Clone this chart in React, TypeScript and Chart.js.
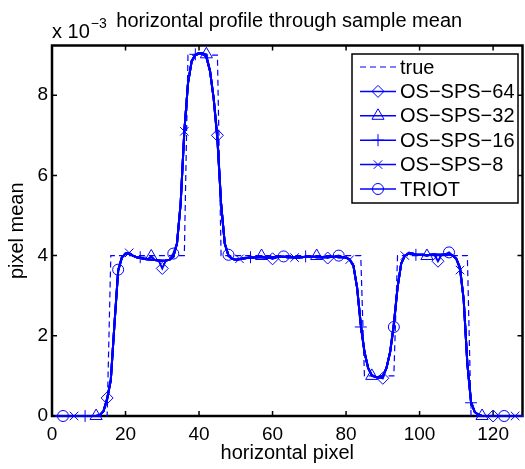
import React, { useEffect, useRef } from 'react';
import { Chart, registerables } from 'chart.js';
import { drawPoint } from 'chart.js/helpers';

Chart.register(...registerables);

const FONT = '"Liberation Sans", Arial, Helvetica, sans-serif';
const BLUE = '#0000ff';

// pixel positions 1..128
const pixelCount = 128;

// true profile (units of 1e-3)
const trueProfile = [
  0, 0, 0, 0, 0, 0, 0, 0, 0, 0,
  0, 0, 0, 0, 0, 4, 4, 4, 4, 4,
  4, 4, 4, 4, 4, 4, 4, 4, 4, 4,
  4, 4, 4, 4, 4, 4, 9, 9, 9, 9,
  9, 9, 9, 9, 9, 4, 4, 4, 4, 4,
  4, 4, 4, 4, 4, 4, 4, 4, 4, 4,
  4, 4, 4, 4, 4, 4, 4, 4, 4, 4,
  4, 4, 4, 4, 4, 4, 4, 4, 4, 4,
  4, 4, 4, 4, 1, 1, 1, 1, 1, 1,
  1, 1, 1, 4, 4, 4, 4, 4, 4, 4,
  4, 4, 4, 4, 4, 4, 4, 4, 4, 4,
  4, 4, 4, 0, 0, 0, 0, 0, 0, 0,
  0, 0, 0, 0, 0, 0, 0, 0,
];

// common reconstructed profile (units of 1e-3)
const reconBase = [
  0, 0, 0, 0, 0, 0, 0, 0, 0, 0,
  0, 0, 0.02, 0.12, 0.42, 0.9, 2.3, 3.62, 3.95, 4.05,
  4.05, 4.0, 3.96, 3.94, 3.92, 3.91, 3.9, 3.89, 3.88, 3.87,
  3.88, 3.9, 3.97, 4.3, 5.3, 7.1, 8.3, 8.85, 9.0, 9.05,
  9.04, 8.95, 8.6, 7.9, 6.9, 5.3, 4.3, 4.0, 3.92, 3.9,
  3.91, 3.93, 3.94, 3.95, 3.95, 3.96, 3.96, 3.95, 3.95, 3.96,
  3.96, 3.97, 3.97, 3.96, 3.96, 3.95, 3.95, 3.96, 3.97, 3.97,
  3.97, 3.96, 3.96, 3.96, 3.97, 3.97, 3.97, 3.96, 3.96, 3.95,
  3.9, 3.75, 3.2, 2.3, 1.6, 1.2, 1.02, 0.97, 0.96, 1.0,
  1.2, 1.6, 2.3, 3.2, 3.8, 4.0, 4.05, 4.05, 4.03, 4.02,
  4.02, 4.01, 4.02, 4.03, 4.02, 4.02, 4.03, 4.03, 4.0, 3.92,
  3.7, 2.9, 1.3, 0.35, 0.1, 0.03, 0, 0, 0, 0,
  0, 0, 0, 0, 0, 0, 0, 0,
];

// per-series values at marker pixels
const sps64Idx = [15, 30, 45, 60, 75, 90, 105, 120];
const sps64Val = [0.45, 3.68, 7.0, 3.92, 3.94, 0.94, 3.86, 0];
const sps32Idx = [12, 27, 42, 57, 72, 87, 102, 117];
const sps32Val = [0, 3.98, 9.02, 3.99, 3.99, 1.0, 3.99, 0];
const sps16Idx = [9, 24, 39, 54, 69, 84, 99, 114];
const sps16Val = [0, 3.96, 9.02, 3.96, 3.98, 2.22, 4.02, 0.33];
const sps8Idx = [6, 21, 36, 51, 66, 81, 96, 111, 126];
const sps8Val = [0, 4.07, 7.1, 3.92, 3.95, 3.9, 4.0, 3.64, 0];
const triotIdx = [3, 18, 33, 48, 63, 78, 93, 108, 123];
const triotVal = [0, 3.65, 4.05, 4.02, 3.98, 4.0, 2.22, 4.08, 0];

const seriesNames = ['true', 'OS\u2212SPS\u221264', 'OS\u2212SPS\u221232', 'OS\u2212SPS\u221216', 'OS\u2212SPS\u22128', 'TRIOT'];
const xTickStep = 20;
const yTickStep = 2;

const pixels = Array.from({ length: pixelCount }, (_, i) => i + 1);

function buildSeries(idx: number[], val: number[]) {
  return pixels.map((p, i) => {
    const k = idx.indexOf(p);
    return { x: p, y: k >= 0 ? val[k] : reconBase[i] };
  });
}

const markerDefs = [
  { style: 'rectRot', r: 6 },
  { style: 'triangle', r: 7 },
  { style: 'cross', r: 6 },
  { style: 'crossRot', r: 6 },
  { style: 'circle', r: 5.5 },
];

export default function App() {
  const ref = useRef<HTMLCanvasElement>(null);

  useEffect(() => {
    if (!ref.current) return;
    Chart.defaults.font.family = FONT;

    const recon = [
      [sps64Idx, sps64Val],
      [sps32Idx, sps32Val],
      [sps16Idx, sps16Val],
      [sps8Idx, sps8Val],
      [triotIdx, triotVal],
    ];

    const datasets: any[] = [
      {
        label: seriesNames[0],
        data: pixels.map((p, i) => ({ x: p, y: trueProfile[i] })),
        borderColor: BLUE,
        borderWidth: 1.2,
        borderDash: [6, 4],
        pointRadius: 0,
        tension: 0,
        clip: false,
      },
    ];
    recon.forEach(([idx, val], k) => {
      const set = new Set(idx as number[]);
      const m = markerDefs[k];
      datasets.push({
        label: seriesNames[k + 1],
        data: buildSeries(idx as number[], val as number[]),
        borderColor: BLUE,
        borderWidth: 2,
        pointStyle: m.style,
        pointRadius: (c: any) => (set.has(c.dataIndex + 1) ? m.r : 0),
        pointHoverRadius: 0,
        pointBorderColor: BLUE,
        pointBackgroundColor: 'rgba(0,0,0,0)',
        pointBorderWidth: 1,
        tension: 0,
        clip: false,
      });
    });

    const framePlugin = {
      id: 'frame',
      beforeDatasetsDraw(chart: any) {
        const { ctx, chartArea: a, scales } = chart;
        ctx.save();
        ctx.strokeStyle = '#000';
        ctx.lineWidth = 1.5;
        const tl = 5;
        ctx.beginPath();
        scales.x.ticks.forEach((t: any) => {
          const px = scales.x.getPixelForValue(t.value);
          ctx.moveTo(px, a.bottom);
          ctx.lineTo(px, a.bottom - tl);
          ctx.moveTo(px, a.top);
          ctx.lineTo(px, a.top + tl);
        });
        scales.y.ticks.forEach((t: any) => {
          const py = scales.y.getPixelForValue(t.value);
          ctx.moveTo(a.left, py);
          ctx.lineTo(a.left + tl, py);
          ctx.moveTo(a.right, py);
          ctx.lineTo(a.right - tl, py);
        });
        ctx.stroke();
        ctx.lineWidth = 2.5;
        ctx.strokeRect(a.left, a.top, a.right - a.left, a.bottom - a.top);
        ctx.restore();
      },
      afterDraw(chart: any) {
        const { ctx, chartArea: a } = chart;
        ctx.save();
        ctx.fillStyle = '#000';
        // title
        ctx.font = `20px ${FONT}`;
        ctx.textAlign = 'center';
        ctx.textBaseline = 'alphabetic';
        ctx.fillText('horizontal profile through sample mean', (a.left + a.right) / 2 + 2, 27);
        // exponent
        ctx.textAlign = 'left';
        ctx.fillText('x 10', a.left, 38);
        const w = ctx.measureText('x 10').width;
        ctx.font = `14px ${FONT}`;
        ctx.fillText('\u22123', a.left + w + 1, 28);

        // legend
        const bx = 352, by = 54, bw = 166, bh = 149;
        ctx.fillStyle = '#fff';
        ctx.fillRect(bx, by, bw, bh);
        ctx.strokeStyle = '#000';
        ctx.lineWidth = 1.5;
        ctx.strokeRect(bx, by, bw, bh);
        ctx.font = `20px ${FONT}`;
        ctx.textBaseline = 'middle';
        seriesNames.forEach((name, i) => {
          const y = 67 + i * 24.4;
          ctx.save();
          ctx.strokeStyle = BLUE;
          ctx.lineWidth = i === 0 ? 1.2 : 1.5;
          ctx.setLineDash(i === 0 ? [6, 4] : []);
          ctx.beginPath();
          ctx.moveTo(360, y);
          ctx.lineTo(396, y);
          ctx.stroke();
          ctx.setLineDash([]);
          if (i > 0) {
            const m = markerDefs[i - 1];
            ctx.lineWidth = 1;
            ctx.fillStyle = 'rgba(0,0,0,0)';
            drawPoint(ctx, { pointStyle: m.style as any, radius: m.r, rotation: 0, borderWidth: 1 } as any, 378, y);
          }
          ctx.restore();
          ctx.fillStyle = '#000';
          ctx.textAlign = 'left';
          ctx.fillText(name, 400, y + 1);
        });
        ctx.restore();
      },
    };

    const chart = new Chart(ref.current, {
      type: 'line',
      data: { datasets },
      options: {
        responsive: false,
        animation: false,
        devicePixelRatio: 1,
        layout: { padding: { top: 45.5, right: 2.5, left: 0, bottom: 0 } },
        plugins: {
          legend: { display: false },
          tooltip: { enabled: false },
          title: { display: false },
        },
        scales: {
          x: {
            type: 'linear',
            min: 0,
            max: pixelCount,
            grid: { display: false, drawTicks: false },
            border: { display: false },
            ticks: {
              stepSize: xTickStep,
              includeBounds: false,
              color: '#000',
              font: { size: 19 },
              padding: 7,
              maxRotation: 0,
              autoSkip: false,
            },
            title: {
              display: true,
              text: 'horizontal pixel',
              color: '#000',
              font: { size: 20 },
              padding: { top: 0, bottom: 4 },
            },
            afterFit: (s: any) => {
              s.height = 53;
            },
          },
          y: {
            type: 'linear',
            min: 0,
            max: 9.24,
            grid: { display: false, drawTicks: false },
            border: { display: false },
            ticks: {
              stepSize: yTickStep,
              includeBounds: false,
              color: '#000',
              font: { size: 19 },
              padding: 4,
              autoSkip: false,
            },
            title: {
              display: true,
              text: 'pixel mean',
              color: '#000',
              font: { size: 20 },
              padding: { top: 5, bottom: 0 },
            },
            afterFit: (s: any) => {
              s.width = 52;
            },
          },
        },
      } as any,
      plugins: [framePlugin],
    });
    return () => chart.destroy();
  }, []);

  return (
    <div style={{ position: 'absolute', left: 0, top: 0, width: 525, height: 469, background: '#fff' }}>
      <canvas ref={ref} width={525} height={469} style={{ display: 'block' }} />
    </div>
  );
}
